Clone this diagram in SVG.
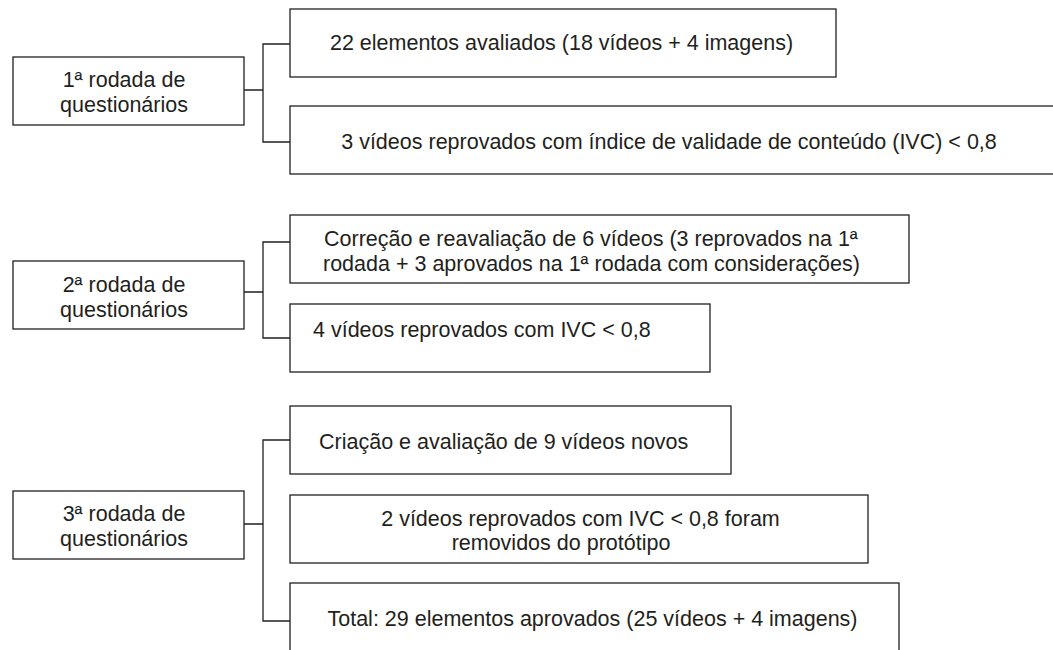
<svg xmlns="http://www.w3.org/2000/svg" width="1053" height="650" viewBox="0 0 1053 650">
<style>
  .box { fill: #ffffff; stroke: #231f20; stroke-width: 1.3; }
  .t { font-family: "Liberation Sans", Arial, sans-serif; font-size: 21.5px; fill: #231f20; }
  .m { text-anchor: middle; }
  .conn { fill: none; stroke: #231f20; stroke-width: 1.3; }
</style>
<rect width="1053" height="650" fill="#ffffff"/>
<g id="connectors">
  <path class="conn" d="M244,90 H263 M290,44 H263 V142 H290"/>
  <path class="conn" d="M244,292 H263 M290,242 H263 V338 H290"/>
  <path class="conn" d="M244,524 H263 M290,440 H263 V621 H290"/>
</g>
<g id="r1">
  <rect class="box" x="13" y="57" width="231" height="68"/>
  <text class="t m" x="124" y="87">1ª rodada de</text>
  <text class="t m" x="124" y="112">questionários</text>
</g>
<g id="r1a">
  <rect class="box" x="290" y="9" width="546" height="68"/>
  <text class="t m" x="561.5" y="50">22 elementos avaliados (18 vídeos + 4 imagens)</text>
</g>
<g id="r1b">
  <rect class="box" x="290" y="106" width="775" height="68"/>
  <text class="t m" x="669" y="149">3 vídeos reprovados com índice de validade de conteúdo (IVC) &lt; 0,8</text>
</g>
<g id="r2">
  <rect class="box" x="13" y="261" width="231" height="68"/>
  <text class="t m" x="124" y="292">2ª rodada de</text>
  <text class="t m" x="124" y="317">questionários</text>
</g>
<g id="r2a">
  <rect class="box" x="290" y="215" width="619" height="68"/>
  <text class="t" x="324" y="246">Correção e reavaliação de 6 vídeos (3 reprovados na 1ª</text>
  <text class="t" x="323" y="271">rodada + 3 aprovados na 1ª rodada com considerações)</text>
</g>
<g id="r2b">
  <rect class="box" x="290" y="304" width="420" height="68"/>
  <text class="t" x="313" y="337">4 vídeos reprovados com IVC &lt; 0,8</text>
</g>
<g id="r3">
  <rect class="box" x="13" y="491" width="231" height="68"/>
  <text class="t m" x="124" y="521">3ª rodada de</text>
  <text class="t m" x="124" y="546">questionários</text>
</g>
<g id="r3a">
  <rect class="box" x="290" y="406" width="441" height="68"/>
  <text class="t" x="319" y="449">Criação e avaliação de 9 vídeos novos</text>
</g>
<g id="r3b">
  <rect class="box" x="290" y="495" width="578" height="68"/>
  <text class="t m" x="580.5" y="525.5">2 vídeos reprovados com IVC &lt; 0,8 foram</text>
  <text class="t m" x="561" y="550">removidos do protótipo</text>
</g>
<g id="r3c">
  <rect class="box" x="290" y="583" width="609" height="80"/>
  <text class="t m" x="592.5" y="626">Total: 29 elementos aprovados (25 vídeos + 4 imagens)</text>
</g>
</svg>
